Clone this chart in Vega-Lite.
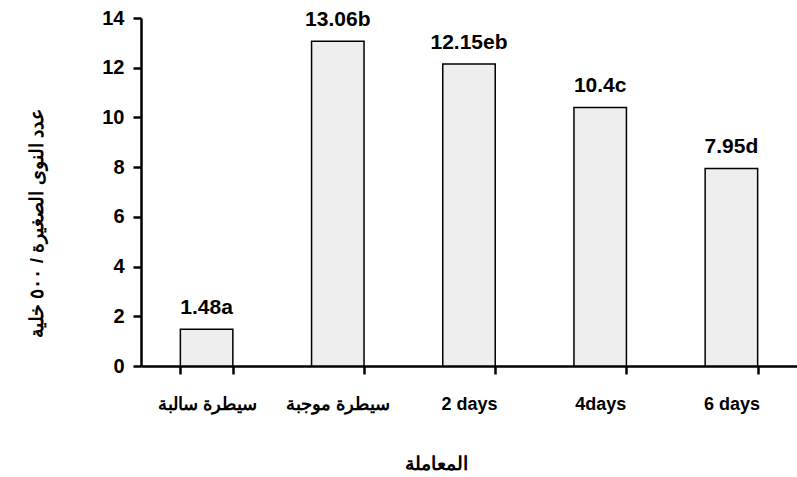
{
  "$schema": "https://vega.github.io/schema/vega-lite/v6.json",
  "width": 656,
  "height": 348,
  "autosize": "none",
  "padding": {"left": 141, "top": 18, "right": 0, "bottom": 111},
  "background": "white",
  "config": {
    "view": {"stroke": null},
    "font": "Liberation Sans",
    "axis": {
      "domainColor": "black",
      "domainWidth": 2.5,
      "tickColor": "black",
      "tickWidth": 2.5,
      "tickSize": 8,
      "labelFont": "Liberation Sans",
      "labelFontWeight": "bold",
      "labelFontSize": 20,
      "labelColor": "black",
      "titleFont": "Liberation Sans",
      "titleFontWeight": "bold",
      "titleFontSize": 19,
      "titleColor": "black",
      "grid": false
    }
  },
  "data": {
    "values": [
      {"treatment": "سيطرة سالبة", "value": 1.48, "label": "1.48a"},
      {"treatment": "سيطرة موجبة", "value": 13.06, "label": "13.06b"},
      {"treatment": "2 days", "value": 12.15, "label": "12.15eb"},
      {"treatment": "4days", "value": 10.4, "label": "10.4c"},
      {"treatment": "6 days", "value": 7.95, "label": "7.95d"}
    ]
  },
  "encoding": {
    "x": {
      "field": "treatment",
      "type": "nominal",
      "sort": null,
      "scale": {"paddingInner": 0.6, "paddingOuter": 0.3},
      "axis": {
        "title": "المعاملة",
        "labelAngle": 0,
        "labelPadding": 21,
        "labelFontSize": 18,
        "tickBand": "extent",
        "tickSize": 8,
        "titleX": 295,
        "titleY": 97,
        "titleAnchor": null,
        "titleAlign": "center",
        "titleBaseline": "middle"
      }
    },
    "y": {
      "field": "value",
      "type": "quantitative",
      "scale": {"domain": [0, 14], "nice": false},
      "axis": {
        "title": "عدد النوى الصغيرة / ٥٠٠ خلية",
        "values": [0, 2, 4, 6, 8, 10, 12, 14],
        "labelPadding": 9,
        "titleX": -105,
        "titleY": 205,
        "titleAngle": -90,
        "titleAlign": "center",
        "titleBaseline": "middle"
      }
    }
  },
  "layer": [
    {
      "mark": {"type": "bar", "fill": "#eeeeee", "stroke": "black", "strokeWidth": 1.5}
    },
    {
      "mark": {"type": "text", "fontWeight": "bold", "fontSize": 21, "baseline": "alphabetic", "dy": -15, "color": "black"},
      "encoding": {"text": {"field": "label"}}
    }
  ]
}
